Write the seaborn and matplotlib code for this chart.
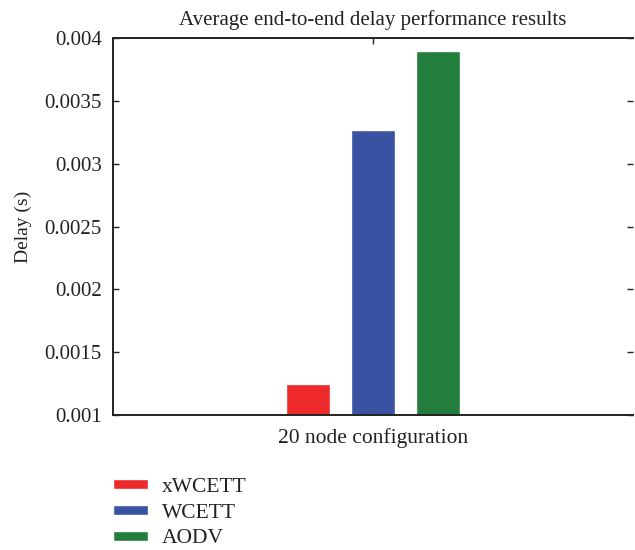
import matplotlib
matplotlib.use("Agg")
import matplotlib.pyplot as plt
import seaborn as sns
import pandas as pd

categories = ["20 node configuration"]
protocols = ["xWCETT", "WCETT", "AODV"]
delays = [0.00125, 0.00327, 0.0039]
colors = ["#EE2A2A", "#3A52A2", "#237E3E"]

df = pd.DataFrame({
    "config": categories * len(protocols),
    "protocol": protocols,
    "delay": delays,
})

sns.set_theme(style="white")
plt.rcParams["font.family"] = ["Liberation Serif", "DejaVu Serif"]

fig = plt.figure(figsize=(6.35, 5.5), dpi=100)
ax = fig.add_axes([113/635, 1 - 415/550, (633 - 113)/635, (415 - 38)/550])

sns.barplot(data=df, x="config", y="delay", hue="protocol",
            palette=colors, hue_order=protocols, width=0.8, gap=0.32,
            ax=ax, legend=True, saturation=1)

ax.set_ylim(0.001, 0.004)
ax.set_xlim(-1.07, 1.07)
ax.set_yticks([0.001, 0.0015, 0.002, 0.0025, 0.003, 0.0035, 0.004])
ax.set_yticklabels(["0.001", "0.0015", "0.002", "0.0025", "0.003", "0.0035", "0.004"])
ax.set_xlabel("20 node configuration", fontsize=15.5, color="#222222", labelpad=6)
ax.set_xticklabels([""])
ax.set_ylabel("Delay (s)", fontsize=14, color="#222222", labelpad=9)
ax.set_title("Average end-to-end delay performance results", fontsize=15,
             color="#222222", pad=9)

for s in ["left", "bottom", "top"]:
    ax.spines[s].set_visible(True)
    ax.spines[s].set_color("#222222")
    ax.spines[s].set_linewidth(1.4)
ax.spines["right"].set_visible(False)

ax.tick_params(axis="both", direction="in", length=4, width=1, color="#222222",
               labelsize=15, labelcolor="#222222", top=True, right=True,
               left=True, bottom=True)
ax.tick_params(axis="y", pad=8)

handles, labels = ax.get_legend_handles_labels()
ax.get_legend().remove()
fig.legend(handles, labels, loc="upper left",
           bbox_to_anchor=(104/635, 1 - 469/550), frameon=False,
           fontsize=15.5, handlelength=1.65, handleheight=0.35,
           labelspacing=0.32, handletextpad=0.65, labelcolor="#222222",
           borderaxespad=0.0)

fig.savefig("out.png", dpi=100)
